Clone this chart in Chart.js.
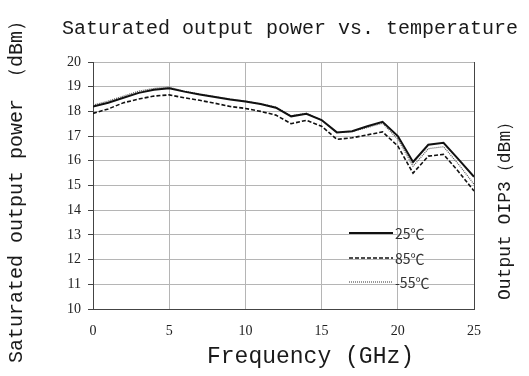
<!DOCTYPE html>
<html>
<head>
<meta charset="utf-8">
<script src="https://cdn.jsdelivr.net/npm/chart.js@4/dist/chart.umd.min.js"></script>
<style>
  html, body { margin: 0; padding: 0; background: #fff; }
  #wrap { width: 529px; height: 376px; }
</style>
</head>
<body>
<div id="wrap"><canvas id="myChart" width="529" height="376"></canvas></div>
<script>
// Frequency points (GHz)
const freq = [0, 1, 2, 3, 4, 5, 6, 7, 8, 9, 10, 11, 12, 13, 14, 15, 16, 17, 18, 19, 20, 21, 22, 23, 24, 25];

// Saturated output power (dBm) per temperature
const p25 = [18.2, 18.35, 18.55, 18.75, 18.88, 18.94, 18.8, 18.68, 18.58, 18.48, 18.4, 18.3, 18.15, 17.8, 17.9, 17.65, 17.15, 17.2, 17.4, 17.58, 17.0, 15.95, 16.65, 16.73, 16.05, 15.35];
const p85 = [17.92, 18.1, 18.35, 18.5, 18.62, 18.67, 18.55, 18.45, 18.33, 18.2, 18.12, 18.0, 17.85, 17.5, 17.64, 17.4, 16.87, 16.93, 17.05, 17.17, 16.6, 15.5, 16.19, 16.26, 15.55, 14.78];
const pm55 = [18.25, 18.42, 18.62, 18.82, 18.93, 18.98, 18.82, 18.7, 18.6, 18.5, 18.42, 18.3, 18.18, 17.82, 17.92, 17.65, 17.15, 17.18, 17.35, 17.52, 16.88, 15.78, 16.49, 16.57, 15.85, 15.05];

const seriesNames = ['25℃', '85℃', '-55℃'];
const xTicks = [0, 5, 10, 15, 20, 25];
const yTicks = [10, 11, 12, 13, 14, 15, 16, 17, 18, 19, 20];

const styles = [
  { color: '#111', width: 2, dash: [] },
  { color: '#111', width: 1.6, dash: [4, 2] },
  { color: '#555', width: 1.2, dash: [1, 1] },
];

const toPoints = (arr) => arr.map((v, i) => ({ x: freq[i], y: v }));

// titles, legend and the stray neighbouring-axis label
const textPlugin = {
  id: 'textPlugin',
  afterDraw(chart) {
    const ctx = chart.ctx;
    const area = chart.chartArea;
    ctx.save();
    ctx.fillStyle = '#1a1a1a';
    ctx.textBaseline = 'middle';

    ctx.font = '20px "Liberation Mono"';
    ctx.textAlign = 'left';
    ctx.fillText('Saturated output power vs. temperature', 62, 29);

    ctx.font = '23px "Liberation Mono"';
    ctx.fillText('Frequency (GHz)', 207, 357);

    // left axis title (rotated)
    ctx.save();
    ctx.translate(17, 363);
    ctx.rotate(-Math.PI / 2);
    ctx.font = '20px "Liberation Mono"';
    ctx.fillText('Saturated output power （dBm）', 0, 0);
    ctx.restore();

    // right label from neighbouring chart
    ctx.save();
    ctx.translate(505, 300);
    ctx.rotate(-Math.PI / 2);
    ctx.font = '18px "Liberation Mono"';
    ctx.fillText('Output OIP3（dBm）', 0, 0);
    ctx.restore();

    // right border
    ctx.strokeStyle = '#444';
    ctx.lineWidth = 1;
    ctx.beginPath();
    ctx.moveTo(Math.round(area.right) + 0.5, area.top);
    ctx.lineTo(Math.round(area.right) + 0.5, area.bottom);
    ctx.stroke();

    // legend inside plot
    const lx0 = 349, lx1 = 393;
    const ly = [233, 258, 282];
    ctx.font = '14px "Noto Sans CJK SC"';
    seriesNames.forEach((name, i) => {
      const s = styles[i];
      ctx.strokeStyle = s.color;
      ctx.lineWidth = s.width;
      ctx.setLineDash(s.dash);
      ctx.beginPath();
      ctx.moveTo(lx0, ly[i]);
      ctx.lineTo(lx1, ly[i]);
      ctx.stroke();
      ctx.setLineDash([]);
      ctx.fillStyle = '#333';
      ctx.fillText(name, lx1 + 2, ly[i] + 1);
    });
    ctx.restore();
  }
};

const ctx = document.getElementById('myChart').getContext('2d');
const myChart = new Chart(ctx, {
  type: 'line',
  data: {
    datasets: [p25, p85, pm55].map((arr, i) => ({
      label: seriesNames[i],
      data: toPoints(arr),
      borderColor: styles[i].color,
      borderWidth: styles[i].width,
      borderDash: styles[i].dash,
      pointRadius: 0,
      tension: 0,
      fill: false,
    })),
  },
  options: {
    responsive: false,
    animation: false,
    layout: { padding: { left: 0, right: 55, top: 62, bottom: 0 } },
    plugins: { legend: { display: false }, tooltip: { enabled: false } },
    scales: {
      x: {
        type: 'linear',
        min: 0,
        max: 25,
        afterBuildTicks: (scale) => { scale.ticks = xTicks.map((v) => ({ value: v })); },
        afterFit: (scale) => { scale.height = 67; },
        grid: { color: '#b5b5b5', tickLength: 0, drawTicks: false },
        border: { color: '#444' },
        ticks: { padding: 14, color: '#222', font: { family: 'Liberation Serif', size: 14 } },
      },
      y: {
        min: 10,
        max: 20,
        afterBuildTicks: (scale) => { scale.ticks = yTicks.map((v) => ({ value: v })); },
        afterFit: (scale) => { scale.width = 93; },
        grid: { color: '#b5b5b5', tickLength: 5, tickColor: '#444' },
        border: { color: '#444' },
        ticks: { padding: 7, color: '#222', font: { family: 'Liberation Serif', size: 14 } },
      },
    },
  },
  plugins: [textPlugin],
});
</script>
</body>
</html>
